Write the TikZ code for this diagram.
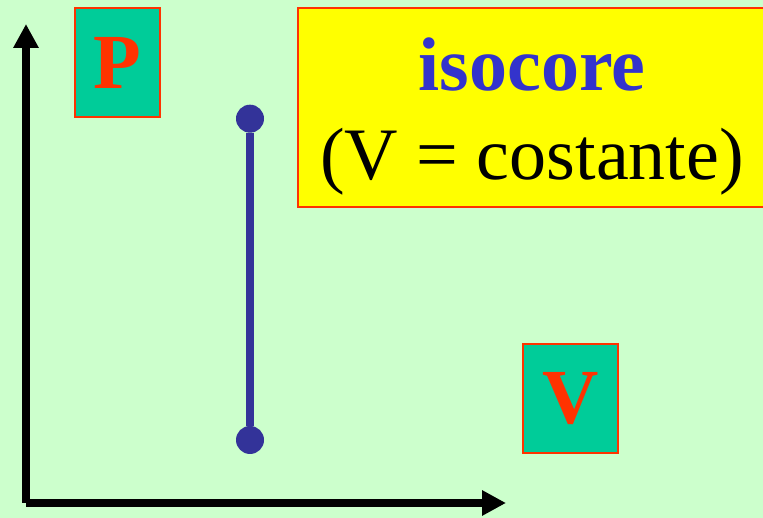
\documentclass[tikz,border=0pt]{standalone}
\usepackage{fontspec}
\setmainfont{Liberation Serif}
\usetikzlibrary{arrows.meta,positioning,calc}
\definecolor{bggreen}{HTML}{CCFFCC}
\definecolor{boxteal}{HTML}{00CC99}
\definecolor{boxred}{HTML}{FF3300}
\definecolor{isoblue}{HTML}{3333CC}
\definecolor{lineblue}{HTML}{333399}
\definecolor{boxyellow}{HTML}{FFFF00}
\begin{document}
\begin{tikzpicture}[x=1pt,y=1pt,
  axlabel/.style={draw=boxred,line width=2pt,fill=boxteal,inner sep=0pt,
    text=boxred,font=\fontsize{78}{78}\selectfont\bfseries},
  statept/.style={circle,fill=lineblue,minimum size=28pt,inner sep=0pt},
  axisline/.style={line width=8pt,-{Triangle[length=24pt,width=24pt]}}
]
  \fill[bggreen] (0,0) rectangle (763,518);
  \useasboundingbox (0,0) rectangle (763,518);
  % Axes
  \coordinate (origin) at (26,15);
  \coordinate (ptip) at (26,494);
  \coordinate (vtip) at (506,15);
  \draw[axisline] (origin) -- (ptip);
  \draw[axisline] (origin) -- (vtip);
  % Axis labels
  \node[axlabel,minimum width=85pt,minimum height=109pt] (plabel) at (117,455.5) {P};
  \node[axlabel,minimum width=95pt,minimum height=109pt] (vlabel) at (570.3,119.3) {V};
  % Title box
  \node[draw=boxred,line width=2pt,fill=boxyellow,minimum width=467.7pt,
    minimum height=198.7pt] (titlebox) at (532.2,410.3) {};
  \node[anchor=base,text=isoblue,font=\fontsize{76}{76}\selectfont\bfseries]
    (title) at (532,427.3) {isocore};
  \node[anchor=base,font=\fontsize{74}{74}\selectfont]
    (subtitle) at (532,338) {(V = costante)};
  % Isochoric process
  \node[statept] (statea) at (250,399.3) {};
  \node[statept] (stateb) at (250,78) {};
  \draw[line width=8pt,lineblue] (statea) -- (stateb);
\end{tikzpicture}
\end{document}
